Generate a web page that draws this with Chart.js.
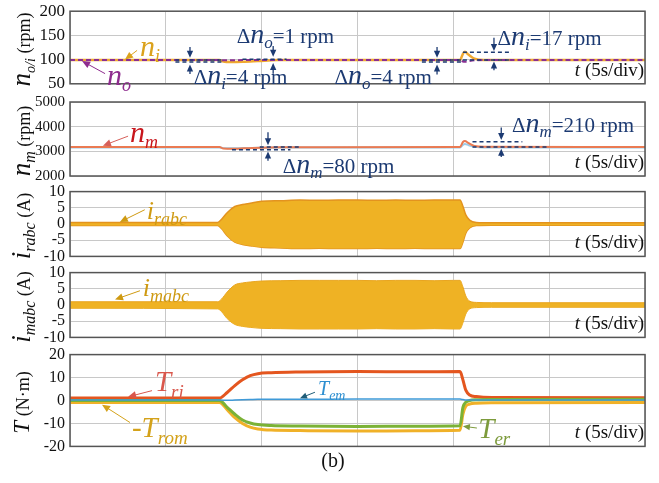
<!DOCTYPE html>
<html>
<head>
<meta charset="utf-8">
<script src="https://cdn.jsdelivr.net/npm/chart.js@4.4.0/dist/chart.umd.min.js"></script>
<style>
  body { margin: 0; background: #fff; width: 659px; height: 483px; overflow: hidden; position: relative; }
  canvas { position: absolute; left: 0; }
  #cap { position: absolute; left: 0; width: 666px; top: 449px; text-align: center; font: 20px "Liberation Serif", serif; color: #111; }
</style>
</head>
<body>
<canvas id="p1"></canvas>
<canvas id="p2"></canvas>
<canvas id="p3"></canvas>
<canvas id="p4"></canvas>
<canvas id="p5"></canvas>
<div id="cap">(b)</div>
<script>
// time axis: 0..30 s, 5 s/div
// panel 1 - speeds n_i / n_o (rpm)
var tN  = [0, 7.8, 8.0, 8.4, 9.0, 9.8, 10.8, 20.35, 20.5, 20.6, 20.8, 21.1, 21.6, 30];
var nI  = [99, 99, 96, 95, 95.5, 97, 99, 99, 112, 116, 110, 102, 99, 99];
var nO  = [99, 99, 98.5, 98.5, 99, 99, 99, 99, 96, 95.5, 97, 98.5, 99, 99];

// panel 2 - n_m (rpm)
var tM    = [0, 7.8, 8.0, 8.5, 9.5, 11, 20.35, 20.5, 20.6, 20.8, 21.1, 21.6, 30];
var nM    = [3180, 3180, 3110, 3100, 3140, 3170, 3180, 3380, 3420, 3330, 3220, 3185, 3180];
var nMref = [3160, 3160, 3130, 3120, 3140, 3160, 3160, 3260, 3300, 3250, 3190, 3160, 3160];

// panels 3/4 - current envelopes (A)
var tI   = [0, 7.7, 7.9, 8.2, 8.6, 9.0, 9.4, 10.0, 11, 12, 13, 14, 15, 16, 17, 18, 19, 20, 20.35, 20.5, 20.65, 20.85, 21.2, 22, 30];
var rUp  = [0.5, 0.5, 1.4, 3.5, 5.4, 6.0, 6.4, 7.0, 7.2, 7.4, 7.3, 7.4, 7.4, 7.3, 7.4, 7.3, 7.4, 7.4, 7.4, 5.5, 2.8, 1.2, 0.5, 0.4, 0.4];
var rLo  = [-0.5, -0.5, -1.4, -3.6, -5.6, -6.3, -6.7, -7.2, -7.4, -7.6, -7.5, -7.6, -7.6, -7.5, -7.6, -7.5, -7.6, -7.6, -7.6, -5.6, -2.8, -1.2, -0.5, -0.4, -0.4];
var mUp  = [1.0, 1.0, 1.8, 4.0, 6.2, 6.8, 7.1, 7.4, 7.5, 7.6, 7.6, 7.6, 7.6, 7.5, 7.6, 7.6, 7.5, 7.6, 7.6, 5.6, 2.8, 1.2, 0.8, 0.7, 0.7];
var mLo  = [-1.0, -1.2, -2.0, -4.2, -6.0, -6.6, -6.9, -7.2, -7.3, -7.4, -7.4, -7.4, -7.4, -7.3, -7.4, -7.4, -7.3, -7.4, -7.4, -5.5, -2.8, -1.2, -0.8, -0.7, -0.7];

// panel 5 - torques (N·m)
var tT   = [0, 7.8, 8.2, 8.6, 9.0, 9.4, 9.8, 10.5, 12, 15, 18, 20.35, 20.5, 20.65, 20.85, 21.2, 22, 30];
var Tri  = [1.1, 1.1, 3.5, 6.5, 9.0, 10.8, 11.7, 12.1, 12.4, 12.6, 12.5, 12.6, 9.0, 4.5, 2.4, 1.7, 1.3, 1.2];
var Trom = [-0.9, -0.9, -4, -7.5, -10, -11.6, -12.4, -12.9, -13.1, -13.3, -13.2, -13.0, -6, -2.5, -1.6, -1.2, -1.0, -0.9];
var Ter  = [0, 0, -3, -6, -8.5, -9.8, -10.5, -10.9, -11.1, -11.3, -11.2, -11.0, -3, -0.8, 0, 0.3, 0.4, 0.5];
var Tem  = [0.2, 0.2, 0.1, 0.2, 0.3, 0.4, 0.5, 0.5, 0.5, 0.6, 0.6, 0.6, 0.4, 0.2, 0.2, 0.2, 0.2, 0.2];

var SERIF = '"Liberation Serif", "Times New Roman", serif';
var NAVY = '#1c3a72';

function pts(xs, ys) {
  return xs.map(function (x, i) { return { x: x, y: ys[i] }; });
}

// parts: [text, size, italic, drop]
function richText(ctx, x, y, parts, color, center) {
  var w = 0;
  parts.forEach(function (p) {
    ctx.font = (p[2] ? 'italic ' : '') + p[1] + 'px ' + SERIF;
    w += ctx.measureText(p[0]).width;
  });
  var cx = center ? x - w / 2 : x;
  var big = Math.max.apply(null, parts.map(function (p) { return p[1]; }));
  var base = y + big * 0.3;
  ctx.fillStyle = color;
  ctx.textBaseline = 'alphabetic';
  ctx.textAlign = 'left';
  parts.forEach(function (p) {
    ctx.font = (p[2] ? 'italic ' : '') + p[1] + 'px ' + SERIF;
    ctx.fillText(p[0], cx, base + (p[3] || 0));
    cx += ctx.measureText(p[0]).width;
  });
  return w;
}

function arrow(ctx, x1, y1, x2, y2, color, head, lw) {
  var a = Math.atan2(y2 - y1, x2 - x1);
  ctx.strokeStyle = color; ctx.fillStyle = color; ctx.lineWidth = lw || 1;
  ctx.setLineDash([]);
  ctx.beginPath(); ctx.moveTo(x1, y1); ctx.lineTo(x2 - Math.cos(a) * head * 0.8, y2 - Math.sin(a) * head * 0.8); ctx.stroke();
  ctx.beginPath();
  ctx.moveTo(x2, y2);
  ctx.lineTo(x2 - head * Math.cos(a) + head * 0.45 * Math.sin(a), y2 - head * Math.sin(a) - head * 0.45 * Math.cos(a));
  ctx.lineTo(x2 - head * Math.cos(a) - head * 0.45 * Math.sin(a), y2 - head * Math.sin(a) + head * 0.45 * Math.cos(a));
  ctx.closePath(); ctx.fill();
}

function notesPlugin(title, notes) {
  return {
    id: 'notes',
    afterDraw: function (chart) {
      var ctx = chart.ctx, a = chart.chartArea, sx = chart.scales.x, sy = chart.scales.y;
      ctx.save();
      ctx.strokeStyle = '#555'; ctx.lineWidth = 1.5;
      ctx.strokeRect(a.left, a.top, a.right - a.left, a.bottom - a.top);

      ctx.save();
      ctx.translate(22, (a.top + a.bottom) / 2 + 2);
      ctx.rotate(-Math.PI / 2);
      richText(ctx, 0, 0, title, '#111', true);
      ctx.restore();

      var tdiv = [['t', 19, true], [' (5s/div)', 19, false]];
      ctx.font = 'italic 19px ' + SERIF;
      var w = ctx.measureText('t').width;
      ctx.font = '19px ' + SERIF;
      w += ctx.measureText(' (5s/div)').width;
      richText(ctx, a.right - w - 1, a.bottom - 14, tdiv, '#111');

      notes.forEach(function (n) {
        if (n.type === 'dash') {
          ctx.strokeStyle = NAVY; ctx.lineWidth = 1.5; ctx.setLineDash([4, 3]);
          ctx.beginPath();
          ctx.moveTo(sx.getPixelForValue(n.t1), sy.getPixelForValue(n.v));
          ctx.lineTo(sx.getPixelForValue(n.t2), sy.getPixelForValue(n.v));
          ctx.stroke();
          ctx.setLineDash([]);
        } else if (n.type === 'arrow') {
          arrow(ctx, sx.getPixelForValue(n.t1), sy.getPixelForValue(n.v1),
            sx.getPixelForValue(n.t2), sy.getPixelForValue(n.v2), n.color || NAVY, n.head || 7, n.color ? 1 : 1.3);
        } else if (n.type === 'text') {
          richText(ctx, sx.getPixelForValue(n.t), sy.getPixelForValue(n.v), n.parts, n.color || NAVY);
        }
      });
      ctx.restore();
    }
  };
}

function panel(id, top, bottom, yMin, yMax, yStep, tickSize, datasets, title, notes) {
  var cv = document.getElementById(id);
  var pad = 12;
  cv.width = 659; cv.height = bottom - top + 2 * pad;
  cv.style.top = (top - pad) + 'px';
  return new Chart(cv, {
    type: 'line',
    data: { datasets: datasets },
    options: {
      responsive: false,
      animation: false,
      layout: { padding: { top: pad, bottom: pad, left: 0, right: 14 } },
      plugins: { legend: { display: false }, tooltip: { enabled: false } },
      elements: { point: { radius: 0 }, line: { cubicInterpolationMode: 'monotone' } },
      scales: {
        x: {
          type: 'linear', min: 0, max: 30,
          ticks: { display: false, stepSize: 5 },
          grid: { color: '#c8c8c8', drawTicks: false },
          border: { display: false },
          afterFit: function (s) { s.height = 0; }
        },
        y: {
          min: yMin, max: yMax,
          ticks: {
            stepSize: yStep, autoSkip: false, color: '#111', padding: 5,
            font: { family: SERIF, size: tickSize },
            callback: function (v) { return String(v); }
          },
          grid: { color: '#c8c8c8', drawTicks: false },
          border: { display: false },
          afterFit: function (s) { s.width = 70; }
        }
      }
    },
    plugins: [notesPlugin(title, notes)]
  });
}

var GOLD = '#efb224', GOLD_EDGE = '#e3931e';

function delta(sub, rest) {
  return [['Δ', 21, false], ['n', 28, true], [sub, 17, true, 5], [rest, 21, false]];
}

panel('p1', 8, 87, 50, 200, 50, 17, [
  { data: pts(tN, nO), borderColor: '#8a2f92', borderWidth: 2, borderDash: [5, 3], order: 1 },
  { data: pts(tN, nI), borderColor: '#f0a830', borderWidth: 2.5, order: 2 }
], [['n', 27, true], ['o/i', 14, true, 5], [' (rpm)', 18, false]], [
  { type: 'text', t: 3.65, v: 126, parts: [['n', 30, true], ['i', 18, true, 6]], color: '#dba21c' },
  { type: 'arrow', t1: 3.5, v1: 119, t2: 2.87, v2: 100, color: '#dba21c', head: 8 },
  { type: 'text', t: 1.93, v: 66, parts: [['n', 30, true], ['o', 18, true, 6]], color: '#8e2c8e' },
  { type: 'arrow', t1: 1.83, v1: 71, t2: 0.63, v2: 97, color: '#8e2c8e', head: 8 },
  { type: 'dash', t1: 5.5, t2: 7.9, v: 99 },
  { type: 'dash', t1: 5.5, t2: 7.9, v: 95 },
  { type: 'arrow', t1: 6.26, v1: 126, t2: 6.26, v2: 104 },
  { type: 'arrow', t1: 6.26, v1: 70, t2: 6.26, v2: 90 },
  { type: 'text', t: 6.45, v: 66, parts: delta('i', '=4 rpm') },
  { type: 'dash', t1: 9.0, t2: 11.3, v: 100.5 },
  { type: 'arrow', t1: 10.6, v1: 128, t2: 10.6, v2: 106 },
  { type: 'arrow', t1: 10.6, v1: 71, t2: 10.6, v2: 93 },
  { type: 'text', t: 8.7, v: 152, parts: delta('o', '=1 rpm') },
  { type: 'dash', t1: 18.36, t2: 20.5, v: 99 },
  { type: 'dash', t1: 18.36, t2: 20.5, v: 95 },
  { type: 'arrow', t1: 19.15, v1: 126, t2: 19.15, v2: 104 },
  { type: 'arrow', t1: 19.15, v1: 69, t2: 19.15, v2: 90 },
  { type: 'text', t: 13.8, v: 67, parts: delta('o', '=4 rpm') },
  { type: 'dash', t1: 20.5, t2: 23.06, v: 115 },
  { type: 'dash', t1: 20.5, t2: 23.06, v: 99 },
  { type: 'arrow', t1: 22.12, v1: 145, t2: 22.12, v2: 118 },
  { type: 'arrow', t1: 22.12, v1: 78, t2: 22.12, v2: 96 },
  { type: 'text', t: 22.3, v: 147, parts: delta('i', '=17 rpm') }
]);

panel('p2', 100, 178, 2000, 5000, 1000, 15, [
  { data: pts(tM, nM), borderColor: '#ea7a52', borderWidth: 2, order: 1 },
  { data: pts(tM, nMref), borderColor: '#9ccbe8', borderWidth: 2, fill: false, order: 2 }
], [['n', 27, true], ['m', 16, true, 5], [' (rpm)', 18, false]], [
  { type: 'text', t: 3.13, v: 3731, parts: [['n', 30, true], ['m', 18, true, 6]], color: '#c8161d' },
  { type: 'arrow', t1: 3.03, v1: 3615, t2: 1.72, v2: 3231, color: '#d6605a', head: 8 },
  { type: 'dash', t1: 9.9, t2: 12, v: 3180 },
  { type: 'dash', t1: 8.45, t2: 11.5, v: 3060 },
  { type: 'arrow', t1: 10.33, v1: 3769, t2: 10.33, v2: 3250 },
  { type: 'arrow', t1: 10.33, v1: 2615, t2: 10.33, v2: 2990 },
  { type: 'text', t: 11.1, v: 2462, parts: delta('m', '=80 rpm') },
  { type: 'dash', t1: 21, t2: 23.6, v: 3390 },
  { type: 'dash', t1: 21, t2: 24.9, v: 3180 },
  { type: 'arrow', t1: 22.5, v1: 3962, t2: 22.5, v2: 3460 },
  { type: 'arrow', t1: 22.5, v1: 2769, t2: 22.5, v2: 3100 },
  { type: 'text', t: 23.06, v: 4115, parts: delta('m', '=210 rpm') }
]);

panel('p3', 189, 259, -10, 10, 5, 16, [
  { data: pts(tI, rUp), borderColor: GOLD_EDGE, borderWidth: 1.5, backgroundColor: GOLD, fill: '+1' },
  { data: pts(tI, rLo), borderColor: GOLD_EDGE, borderWidth: 1.5, fill: false }
], [['i', 27, true], ['rabc', 16, true, 5], [' (A)', 18, false]], [
  { type: 'text', t: 4.0, v: 4, parts: [['i', 26, true], ['rabc', 18, true, 6]], color: '#cf9a12' },
  { type: 'arrow', t1: 3.9, v1: 4.4, t2: 2.6, v2: 0.6, color: '#cf9a12', head: 8 }
]);

panel('p4', 270, 340, -10, 10, 5, 16, [
  { data: pts(tI, mUp), borderColor: '#e9a51f', borderWidth: 1, backgroundColor: GOLD, fill: '+1' },
  { data: pts(tI, mLo), borderColor: '#e9a51f', borderWidth: 1, fill: false }
], [['i', 27, true], ['mabc', 16, true, 5], [' (A)', 18, false]], [
  { type: 'text', t: 3.8, v: 5.1, parts: [['i', 26, true], ['mabc', 18, true, 6]], color: '#cf9a12' },
  { type: 'arrow', t1: 3.65, v1: 4.4, t2: 2.35, v2: 1.7, color: '#cf9a12', head: 8 }
]);

panel('p5', 352, 449, -20, 20, 10, 16, [
  { data: pts(tT, Tem), borderColor: '#3f9ad8', borderWidth: 1.5, order: 1 },
  { data: pts(tT, Ter), borderColor: '#7bb236', borderWidth: 3, order: 2 },
  { data: pts(tT, Tri), borderColor: '#e4561f', borderWidth: 3, order: 3 },
  { data: pts(tT, Trom), borderColor: '#f0b128', borderWidth: 3, order: 4 }
], [['T', 23, true], [' (N·m)', 18, false]], [
  { type: 'text', t: 4.43, v: 8.0, parts: [['T', 29, true], ['ri', 19, true, 7]], color: '#d9574c' },
  { type: 'arrow', t1: 4.28, v1: 4.3, t2: 3.03, v2: 1.6, color: '#d9574c', head: 8 },
  { type: 'text', t: 12.94, v: 5.1, parts: [['T', 20, true], ['em', 14, true, 5]], color: '#2e8fd0' },
  { type: 'arrow', t1: 12.78, v1: 3.6, t2: 12.0, v2: 1.0, color: '#1f5d78', head: 7 },
  { type: 'text', t: 3.23, v: -12, parts: [['-', 29, false], ['T', 29, true], ['rom', 19, true, 7]], color: '#d4a21a' },
  { type: 'arrow', t1: 3.13, v1: -9.6, t2: 1.67, v2: -1.8, color: '#d4a21a', head: 8 },
  { type: 'text', t: 21.3, v: -12.6, parts: [['T', 29, true], ['er', 19, true, 7]], color: '#7d9b3c' },
  { type: 'arrow', t1: 21.23, v1: -12, t2: 20.5, v2: -11.2, color: '#7d9b3c', head: 7 }
]);
</script>
</body>
</html>
